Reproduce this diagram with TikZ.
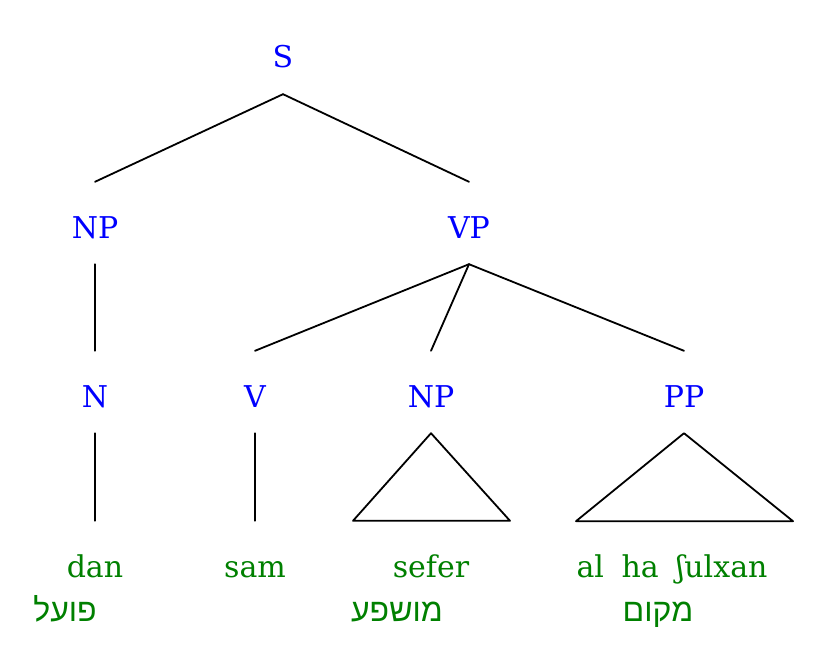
\documentclass[tikz,border=0pt]{standalone}
\usepackage{fontspec}
\setmainfont{DejaVu Serif}
\newfontfamily\hebfont[Script=Hebrew]{Liberation Sans}
\TeXXeTstate=1
\usetikzlibrary{calc}
\definecolor{catblue}{RGB}{0,0,255}
\definecolor{wordgreen}{RGB}{0,128,0}
\tikzset{
  cat/.style={inner sep=0pt, text height=56pt, text depth=26pt, anchor=base, text=catblue, font=\fontsize{30}{32}\selectfont},
  word/.style={inner sep=0pt, text height=56pt, text depth=26pt, anchor=base, text=wordgreen, font=\fontsize{30}{32}\selectfont},
  gloss/.style={inner sep=0pt, anchor=base, text=wordgreen, font=\hebfont\fontsize{32}{34}\selectfont},
  branch/.style={line width=1.8pt, line cap=round}
}
\begin{document}
\begin{tikzpicture}[x=1pt,y=-1pt]
\useasboundingbox (0,0) rectangle (826,660);
\node[cat] (S) at (283,68) {S};
\node[cat] (NP) at (95,238) {NP};
\node[cat] (VP) at (469,238) {VP};
\node[cat] (N) at (95,407) {N};
\node[cat] (V) at (255,407) {V};
\node[cat] (NPo) at (431,407) {NP};
\node[cat] (PP) at (684,407) {PP};
\node[word] (dan) at (95,577) {dan};
\node[word] (sam) at (255,577) {sam};
\node[word] (sefer) at (431,577) {sefer};
\node[word] (alha) at (672,577) {al\hspace{8pt} ha\hspace{8pt} ʃulxan};
\node[gloss] (g1) at (65,621) {\beginR פועל\endR};
\node[gloss] (g2) at (397,621) {\beginR מושפע\endR};
\node[gloss] (g3) at (658,621) {\beginR מקום\endR};
\draw[branch] (S.south) -- (NP.north);
\draw[branch] (S.south) -- (VP.north);
\draw[branch] (NP.south) -- (N.north);
\draw[branch] (VP.south) -- (V.north);
\draw[branch] (VP.south) -- (NPo.north);
\draw[branch] (VP.south) -- (PP.north);
\draw[branch] (N.south) -- (dan.north);
\draw[branch] (V.south) -- (sam.north);
\draw[branch, line join=round] (NPo.south) -- ($(sefer.north)+(-78,0)$) -- ($(sefer.north)+(79,0)$) -- cycle;
\draw[branch, line join=round] (PP.south) -- ($(PP.south)+(-108,88)$) -- ($(PP.south)+(109,88)$) -- cycle;
\end{tikzpicture}
\end{document}
